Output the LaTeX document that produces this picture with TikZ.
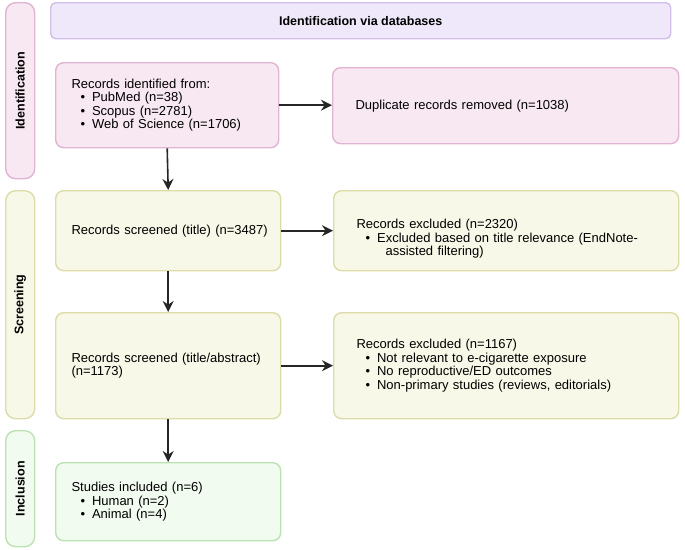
\documentclass[tikz,border=0pt]{standalone}
\usepackage{fontspec}
\setmainfont{Liberation Sans}
\usetikzlibrary{positioning, arrows.meta}
\definecolor{pinkfill}{HTML}{F8E8F2}
\definecolor{pinkdraw}{HTML}{E0B4D2}
\definecolor{yelfill}{HTML}{F8F8E8}
\definecolor{yeldraw}{HTML}{DCDCA8}
\definecolor{grnfill}{HTML}{F2FBF0}
\definecolor{grndraw}{HTML}{BCE2B4}
\definecolor{lavfill}{HTML}{EEE8FA}
\definecolor{lavdraw}{HTML}{D2BEEA}
\tikzset{
  box/.style = {rectangle, rounded corners=8pt, line width=1.4pt, anchor=north west, inner sep=0pt},
  side/.style = {box, rounded corners=10pt},
  arrow/.style = {line width=1.6pt, draw=black!85, -{Stealth[length=11pt,width=11pt]}},
  txt/.style = {anchor=west, align=left, font=\fontsize{13}{13.5}\selectfont, text width=#1},
  phase/.style = {font=\bfseries\fontsize{12.5}{13}\selectfont}
}
\newcommand{\bitem}[1]{\hspace*{9pt}\textbullet\hspace{7pt}#1}
\begin{document}
\begin{tikzpicture}[x=1pt, y=-1pt]
\useasboundingbox (0,0) rectangle (685,549);
% phase bars
\node (IDside) [side, fill=pinkfill, draw=pinkdraw, minimum width=29pt, minimum height=176pt] at (5,2) {};
\node [phase, rotate=90] at (IDside.center) {Identification};
\node (SCside) [side, fill=yelfill, draw=yeldraw, minimum width=29pt, minimum height=228pt] at (5,190) {};
\node [phase, rotate=90] at (SCside.center) {Screening};
\node (INside) [side, fill=grnfill, draw=grndraw, minimum width=29pt, minimum height=116pt] at (5,430) {};
\node [phase, rotate=90] at (INside.center) {Inclusion};
\node (head) [box, rounded corners=5pt, fill=lavfill, draw=lavdraw, minimum width=620pt, minimum height=36pt] at (50,2) {};
\node [phase] at (head.center) {Identification via databases};
% boxes
\node (ident) [box, fill=pinkfill, draw=pinkdraw, minimum width=223pt, minimum height=85pt] at (55,62) {};
\node [txt=210pt] at ([xshift=13pt]ident.west) {Records identified from:\\
  \bitem{PubMed (n=38)}\\ \bitem{Scopus (n=2781)}\\ \bitem{Web of Science (n=1706)}};
\node (dup) [box, fill=pinkfill, draw=pinkdraw, minimum width=346pt, minimum height=76pt] at (332,67) {};
\node [txt=320pt] at ([xshift=20pt]dup.west) {Duplicate records removed (n=1038)};
\node (scr1) [box, fill=yelfill, draw=yeldraw, minimum width=225pt, minimum height=80pt] at (55,190) {};
\node [txt=210pt] at ([xshift=13pt]scr1.west) {Records screened (title) (n=3487)};
\node (exc1) [box, fill=yelfill, draw=yeldraw, minimum width=345pt, minimum height=80pt] at (333,190) {};
\node [txt=330pt, yshift=-8pt] at ([xshift=20pt]exc1.west) {Records excluded (n=2320)\\
  \bitem{Excluded based on title relevance (EndNote-}\\ \hspace*{29pt}assisted filtering)};
\node (scr2) [box, fill=yelfill, draw=yeldraw, minimum width=225pt, minimum height=106pt] at (55,312) {};
\node [txt=210pt] at ([xshift=13pt]scr2.west) {Records screened (title/abstract)\\(n=1173)};
\node (exc2) [box, fill=yelfill, draw=yeldraw, minimum width=345pt, minimum height=106pt] at (333,312) {};
\node [txt=330pt] at ([xshift=20pt]exc2.west) {Records excluded (n=1167)\\
  \bitem{Not relevant to e-cigarette exposure}\\ \bitem{No reproductive/ED outcomes}\\
  \bitem{Non-primary studies (reviews, editorials)}};
\node (incl) [box, fill=grnfill, draw=grndraw, minimum width=225pt, minimum height=78pt] at (55,462) {};
\node [txt=210pt] at ([xshift=13pt]incl.west) {Studies included (n=6)\\
  \bitem{Human (n=2)}\\ \bitem{Animal (n=4)}};
% connectors
\draw [arrow] (ident.east) -- (dup.west |- ident.east);
\draw [arrow] (scr1.east) -- (exc1.west);
\draw [arrow] (scr2.east) -- (exc2.west);
\draw [arrow] (ident.south) -- (scr1.north);
\draw [arrow] (scr1.south) -- (scr2.north);
\draw [arrow] (scr2.south) -- (incl.north);
\end{tikzpicture}
\end{document}
